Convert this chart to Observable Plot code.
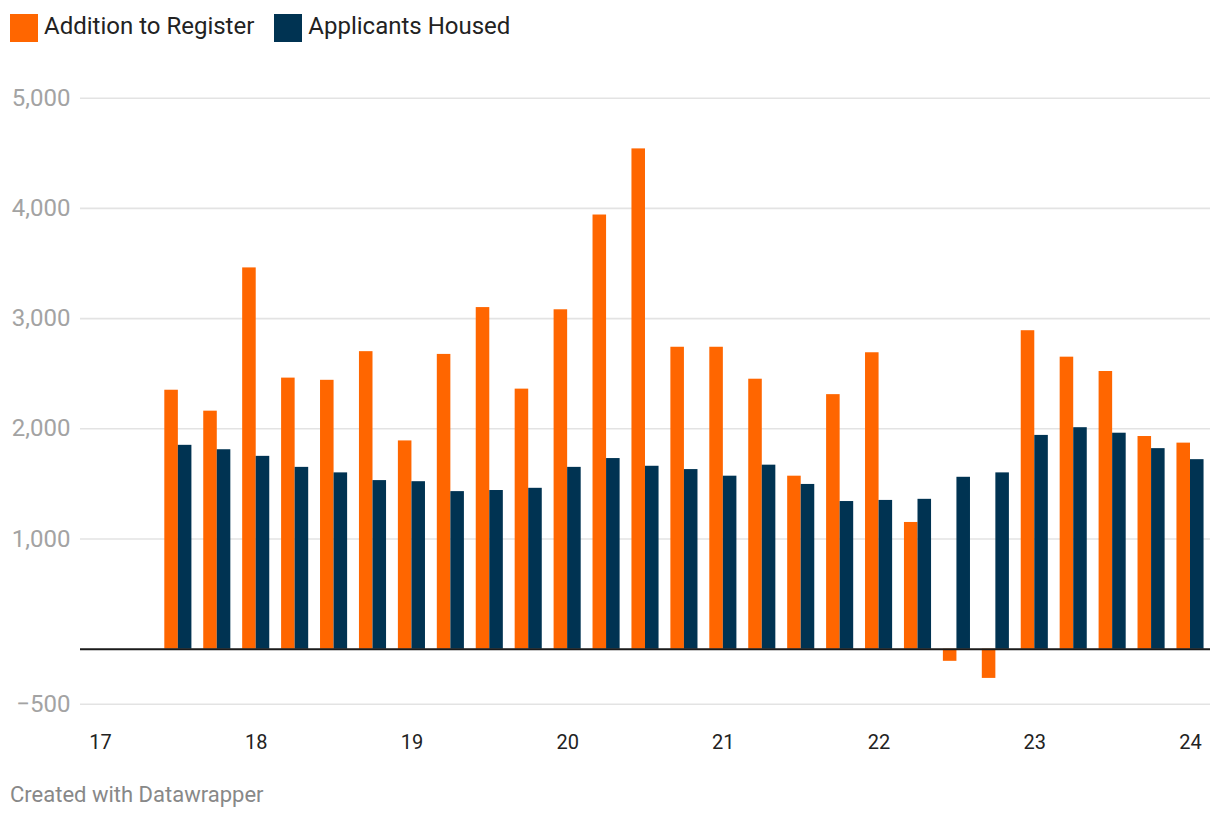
<!DOCTYPE html>
<html>
<head>
<meta charset="utf-8">
<script src="https://cdn.jsdelivr.net/npm/d3@7"></script>
<script src="https://cdn.jsdelivr.net/npm/@observablehq/plot@0.6"></script>
<style>
  html, body { margin: 0; padding: 0; background: #fff; }
  #page { position: relative; width: 1220px; height: 820px; font-family: Roboto, "Noto Sans", sans-serif; }
  #legend { position: absolute; left: 10px; top: 14px; height: 28px; display: flex; align-items: center; }
  .item { display: flex; align-items: center; margin-right: 20px; }
  .sw { width: 28px; height: 28px; margin-right: 6px; }
  .lab { font-size: 24px; color: #222; position: relative; top: -2px; white-space: nowrap; }
  #chart { position: absolute; left: 0; top: 56px; }
  #caption { position: absolute; left: 10px; top: 782px; font-size: 22px; color: #888; white-space: nowrap; }
</style>
</head>
<body>
<div id="page">
  <div id="legend"></div>
  <div id="chart"></div>
  <div id="caption">Created with Datawrapper</div>
</div>
<script>
// Quarterly periods (decimal years, '17 = 2017)
const periods = [17.5, 17.75, 18, 18.25, 18.5, 18.75, 19, 19.25, 19.5, 19.75, 20, 20.25, 20.5, 20.75,
                 21, 21.25, 21.5, 21.75, 22, 22.25, 22.5, 22.75, 23, 23.25, 23.5, 23.75, 24];
const additions = [2350, 2160, 3460, 2460, 2440, 2700, 1890, 2675, 3100, 2360, 3080, 3940, 4540, 2740,
                   2740, 2450, 1570, 2310, 2690, 1150, -110, -265, 2890, 2650, 2520, 1930, 1870];
const housed = [1850, 1810, 1750, 1650, 1600, 1530, 1520, 1430, 1440, 1460, 1650, 1730, 1660, 1630,
                1570, 1670, 1495, 1340, 1350, 1360, 1560, 1600, 1940, 2010, 1960, 1820, 1720];
const seriesNames = ["Addition to Register", "Applicants Housed"];
const seriesColors = ["#ff6600", "#003352"];
const yTicks = [-500, 1000, 2000, 3000, 4000, 5000];
const xTicks = [17, 18, 19, 20, 21, 22, 23, 24];
const xTickLabels = ["17", "18", "19", "20", "21", "22", "23", "24"];

// legend
const legend = document.getElementById("legend");
seriesNames.forEach((name, i) => {
  const it = document.createElement("div");
  it.className = "item";
  it.innerHTML = `<div class="sw" style="background:${seriesColors[i]}"></div><div class="lab">${name}</div>`;
  legend.appendChild(it);
});

const rows = [];
periods.forEach((t, i) => {
  rows.push({t, series: seriesNames[0], idx: 0, value: additions[i]});
  rows.push({t, series: seriesNames[1], idx: 1, value: housed[i]});
});

const bw = 0.087; // bar width in years
const fmt = d3.format(",");

const chart = Plot.plot({
  width: 1220,
  height: 720,
  marginLeft: 80,
  marginRight: 10,
  marginTop: 40,
  marginBottom: 42,
  style: {fontFamily: "Roboto, 'Noto Sans', sans-serif", background: "#fff"},
  x: {domain: [17, 24], range: [100, 1190]},
  y: {domain: [-500, 5000], range: [647.8, 41.7]},
  color: {domain: seriesNames, range: seriesColors},
  marks: [
    Plot.ruleY(yTicks, {stroke: "#e3e3e3", strokeWidth: 1.6}),
    Plot.rectY(rows, {
      x1: d => d.idx === 0 ? d.t - bw : d.t,
      x2: d => d.idx === 0 ? d.t : d.t + bw,
      y1: 0,
      y2: "value",
      fill: "series"
    }),
    Plot.ruleY([0], {stroke: "#1a1a1a", strokeWidth: 2}),
    Plot.axisY({ticks: yTicks, tickFormat: d => fmt(d), tickSize: 0, tickPadding: 10,
                fontSize: 24, fill: "#a3a3a3", label: null}),
    Plot.axisX({ticks: xTicks, tickFormat: (d, i) => xTickLabels[xTicks.indexOf(d)], tickSize: 0, tickPadding: 0,
                fontSize: 20, fill: "#222", label: null})
  ]
});
document.getElementById("chart").appendChild(chart);
</script>
</body>
</html>
